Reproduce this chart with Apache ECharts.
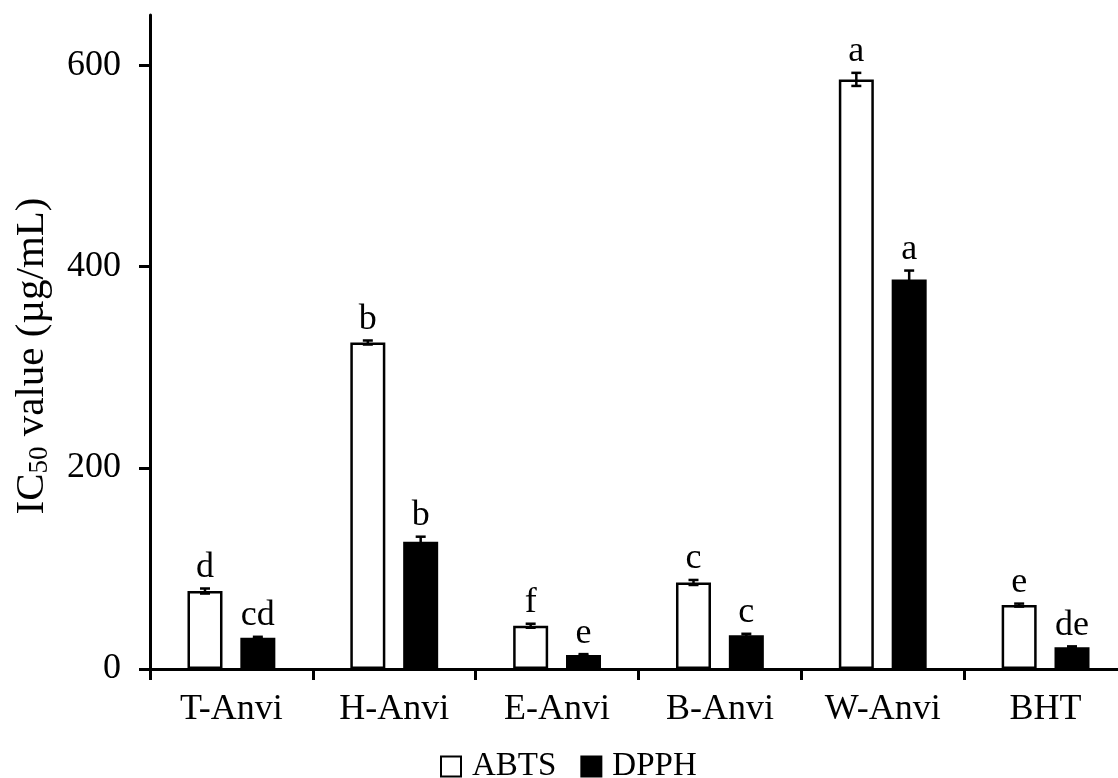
<!DOCTYPE html>
<html>
<head>
<meta charset="utf-8">
<style>
  html, body { margin: 0; padding: 0; background: #fff; }
  #chart { width: 1118px; height: 778px; }
</style>
<script src="https://cdn.jsdelivr.net/npm/echarts@6/dist/echarts.min.js"></script>
</head>
<body>
<div id="chart"></div>
<script>
// IC50 values of the extracts and the BHT reference (µg/mL)
const categories = ['T-Anvi', 'H-Anvi', 'E-Anvi', 'B-Anvi', 'W-Anvi', 'BHT'];
const abtsValues = [77.5, 324.5, 43, 86, 586, 63.5];
const abtsErrors = [2.5, 2, 2, 2.5, 6.5, 1.5];
const abtsLetters = ['d', 'b', 'f', 'c', 'a', 'e'];
const dpphValues = [31, 126.5, 14, 33.5, 387, 21.5];
const dpphErrors = [1, 5, 0.8, 1.5, 9, 1];
const dpphLetters = ['cd', 'b', 'e', 'c', 'a', 'de'];
const yTicks = [0, 200, 400, 600];

const FONT = "'Liberation Serif', 'Times New Roman', serif";
const BAR_W = 35;
const BAR_GAP = 0.51;
const OFFSET = (BAR_W + BAR_W * BAR_GAP) / 2;

// Error bar with caps plus the significance letter above it
function errorRenderer(shift, letters) {
  return function (params, api) {
    const idx = api.value(0);
    const top = api.coord([idx, api.value(1) + api.value(2)]);
    const bot = api.coord([idx, api.value(1) - api.value(2)]);
    const x = top[0] + shift;
    const cap = 5;
    const lineStyle = { stroke: '#000', lineWidth: 2.5 };
    return {
      type: 'group',
      children: [
        { type: 'line', shape: { x1: x, y1: top[1], x2: x, y2: bot[1] }, style: lineStyle },
        { type: 'line', shape: { x1: x - cap, y1: top[1], x2: x + cap, y2: top[1] }, style: lineStyle },
        { type: 'line', shape: { x1: x - cap, y1: bot[1], x2: x + cap, y2: bot[1] }, style: lineStyle },
        {
          type: 'text',
          style: {
            text: letters[params.dataIndex],
            x: x,
            y: top[1] - 3,
            align: 'center',
            verticalAlign: 'bottom',
            font: '36px ' + FONT,
            fill: '#000'
          }
        }
      ]
    };
  };
}

const chart = echarts.init(document.getElementById('chart'), null, { renderer: 'canvas' });

chart.setOption({
  animation: false,
  backgroundColor: '#fff',
  textStyle: { fontFamily: FONT, color: '#000' },
  grid: { left: 150, right: -9, top: 15, bottom: 109, containLabel: false, outerBoundsMode: 'none' },
  legend: {
    top: 745,
    left: 435,
    icon: 'rect',
    itemWidth: 20,
    itemHeight: 20,
    itemGap: 24,
    textStyle: { fontFamily: FONT, fontSize: 33, color: '#000', padding: [0, 0, 0, 6] },
    data: ['ABTS', 'DPPH']
  },
  xAxis: {
    type: 'category',
    data: categories,
    axisLine: { lineStyle: { color: '#000', width: 3 } },
    axisTick: { show: true, length: 11, lineStyle: { color: '#000', width: 3 } },
    axisLabel: { fontFamily: FONT, fontSize: 36, color: '#000', margin: 23 },
    splitLine: { show: false }
  },
  yAxis: {
    type: 'value',
    min: 0,
    max: 650,
    interval: 200,
    name: '{a|IC}{s|50}{a| value (µg/mL)}',
    nameLocation: 'middle',
    nameGap: 97,
    nameRotate: 90,
    nameTextStyle: {
      fontFamily: FONT,
      color: '#000',
      padding: [0, 28, 0, 0],
      rich: {
        a: { fontFamily: FONT, fontSize: 41, color: '#000' },
        s: { fontFamily: FONT, fontSize: 27, color: '#000', padding: [15, 0, 0, 0] }
      }
    },
    axisLine: { show: true, lineStyle: { color: '#000', width: 3 } },
    axisTick: { show: true, length: 11, lineStyle: { color: '#000', width: 3 }, customValues: yTicks },
    axisLabel: { fontFamily: FONT, fontSize: 36, color: '#000', margin: 29, customValues: yTicks },
    splitLine: { show: false }
  },
  series: [
    {
      name: 'ABTS',
      type: 'bar',
      data: abtsValues,
      barWidth: BAR_W,
      barGap: (BAR_GAP * 100) + '%',
      itemStyle: { color: '#fff', borderColor: '#000', borderWidth: 2.5 }
    },
    {
      name: 'DPPH',
      type: 'bar',
      data: dpphValues,
      barWidth: BAR_W,
      barGap: (BAR_GAP * 100) + '%',
      itemStyle: { color: '#000', borderColor: '#000', borderWidth: 2.5 }
    },
    {
      type: 'custom',
      name: 'ABTS error',
      z: 10,
      renderItem: errorRenderer(-OFFSET, abtsLetters),
      data: abtsValues.map((v, i) => [i, v, abtsErrors[i]]),
      encode: { x: 0, y: 1 },
      silent: true
    },
    {
      type: 'custom',
      name: 'DPPH error',
      z: 10,
      renderItem: errorRenderer(OFFSET, dpphLetters),
      data: dpphValues.map((v, i) => [i, v, dpphErrors[i]]),
      encode: { x: 0, y: 1 },
      silent: true
    }
  ]
});
</script>
</body>
</html>
